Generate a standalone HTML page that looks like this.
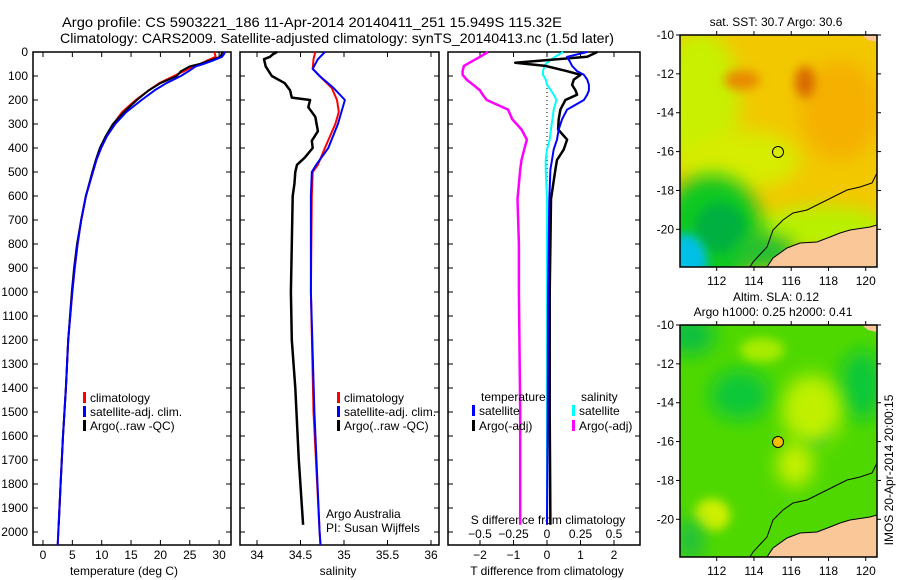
<!DOCTYPE html>
<html><head><meta charset="utf-8"><style>
html,body{margin:0;padding:0;background:#fff;}
svg{display:block;font-family:"Liberation Sans",sans-serif;}
text{fill:#000;}
</style></head><body>
<svg id="fig" width="900" height="580" viewBox="0 0 900 580">
<defs>
<filter id="bl" x="-50%" y="-50%" width="200%" height="200%"><feGaussianBlur stdDeviation="9"/></filter>
<filter id="bl2" x="-50%" y="-50%" width="200%" height="200%"><feGaussianBlur stdDeviation="5"/></filter>
<clipPath id="c1"><rect x="680" y="35" width="197" height="232"/></clipPath>
<clipPath id="c2"><rect x="680" y="325" width="197" height="232"/></clipPath>
</defs>
<text x="62" y="27" font-size="14" textLength="500" lengthAdjust="spacingAndGlyphs">Argo profile: CS 5903221_186 11-Apr-2014 20140411_251 15.949S 115.32E</text>
<text x="60" y="43" font-size="14" textLength="554" lengthAdjust="spacingAndGlyphs">Climatology: CARS2009. Satellite-adjusted climatology: synTS_20140413.nc (1.5d later)</text>

<g id="p1"></g>
<g id="p2"></g>
<g id="p3"></g>

<!-- SST map -->
<g>
<text x="776" y="26" font-size="12" text-anchor="middle">sat. SST: 30.7 Argo: 30.6</text>
<g clip-path="url(#c1)">
<rect x="680" y="35" width="197" height="232" fill="#f2c800"/>
<ellipse cx="700" cy="100" rx="40" ry="70" fill="#c8f000" filter="url(#bl)"/>
<ellipse cx="740" cy="160" rx="60" ry="30" fill="#d6ec00" filter="url(#bl)"/>
<ellipse cx="840" cy="110" rx="40" ry="50" fill="#f5b000" filter="url(#bl)"/>
<ellipse cx="742" cy="80" rx="18" ry="10" fill="#e88a00" filter="url(#bl2)"/>
<ellipse cx="805" cy="82" rx="10" ry="16" fill="#d86a00" filter="url(#bl2)"/>
<ellipse cx="820" cy="228" rx="70" ry="22" fill="#b8f000" filter="url(#bl)"/>
<ellipse cx="712" cy="230" rx="50" ry="55" fill="#10c820" filter="url(#bl)"/>
<ellipse cx="720" cy="228" rx="25" ry="25" fill="#00b040" filter="url(#bl2)"/>
<ellipse cx="765" cy="252" rx="30" ry="18" fill="#20c030" filter="url(#bl)"/>
<ellipse cx="685" cy="262" rx="22" ry="28" fill="#00c0e8" filter="url(#bl2)"/>
<polygon points="877,225 870,227 850,230 840,233 830,237 817,242 800,243 787,248 773,258 767,267 877,267" fill="#fac898"/>
<polygon points="862,35 877,35 877,42 868,40" fill="#fac898"/>
<polyline points="877,173 872,183 860,187 847,190 827,200 807,210 793,213 783,220 773,230 767,247 753,262 750,267" fill="none" stroke="#000" stroke-width="1"/>
<polyline points="877,225 870,227 850,230 840,233 830,237 817,242 800,243 787,248 773,258 767,267" fill="none" stroke="#000" stroke-width="1"/>
</g>
<rect x="680" y="35" width="197" height="232" fill="none" stroke="#000" stroke-width="1.5"/>
<circle cx="778" cy="152" r="5.5" fill="none" stroke="#000" stroke-width="1"/>
<g id="m1ax"></g>
</g>

<!-- SLA map -->
<g>
<text x="776" y="301" font-size="12" text-anchor="middle">Altim. SLA: 0.12</text>
<text x="773" y="316" font-size="12" text-anchor="middle">Argo h1000: 0.25 h2000: 0.41</text>
<g clip-path="url(#c2)">
<rect x="680" y="325" width="197" height="232" fill="#4fd800"/>
<ellipse cx="690" cy="335" rx="25" ry="20" fill="#10c040" filter="url(#bl)"/>
<ellipse cx="740" cy="395" rx="30" ry="25" fill="#10c838" filter="url(#bl)"/>
<ellipse cx="862" cy="385" rx="22" ry="35" fill="#10c838" filter="url(#bl)"/>
<ellipse cx="815" cy="430" rx="15" ry="18" fill="#10c030" filter="url(#bl2)"/>
<ellipse cx="812" cy="410" rx="30" ry="35" fill="#c0f000" filter="url(#bl)"/>
<ellipse cx="795" cy="465" rx="18" ry="22" fill="#c8f000" filter="url(#bl)"/>
<ellipse cx="762" cy="350" rx="22" ry="12" fill="#a8ec00" filter="url(#bl2)"/>
<ellipse cx="712" cy="515" rx="18" ry="16" fill="#d0f000" filter="url(#bl2)"/>
<ellipse cx="690" cy="540" rx="14" ry="22" fill="#20c040" filter="url(#bl)"/>
<polygon points="877,515 870,517 850,520 840,523 830,527 817,532 800,533 787,538 773,548 767,557 877,557" fill="#fac898"/>
<polygon points="862,325 877,325 877,332 868,330" fill="#fac898"/>
<polyline points="877,463 872,473 860,477 847,480 827,490 807,500 793,503 783,510 773,520 767,537 753,552 750,557" fill="none" stroke="#000" stroke-width="1"/>
<polyline points="877,515 870,517 850,520 840,523 830,527 817,532 800,533 787,538 773,548 767,557" fill="none" stroke="#000" stroke-width="1"/>
</g>
<rect x="680" y="325" width="197" height="232" fill="none" stroke="#000" stroke-width="1.5"/>
<circle cx="778" cy="442" r="5.5" fill="#f5c000" stroke="#000" stroke-width="1"/>
<g id="m2ax"></g>
<text transform="translate(893,470) rotate(-90)" font-size="12" text-anchor="middle">IMOS 20-Apr-2014 20:00:15</text>
</g>

<script>
// ---- data ----
const depthArgoT = [0,10,20,35,50,60,80,100,130,160,200,250,300,350,400,450,500,600,700,800,900,1000,1200,1400,1600,1800,1970];
const argoT = [30.6,30.4,30.2,28.5,26.7,25.0,23.5,22.8,20.0,18.0,16.0,13.8,11.9,10.7,9.7,9.0,8.4,7.3,6.5,5.8,5.3,4.9,4.3,3.9,3.4,3.0,2.7];
const depthClim = [0,10,20,35,50,60,80,100,130,160,200,250,300,350,400,450,500,600,700,800,900,1000,1200,1400,1600,1800,2000,2054];
const climT = [29.2,29.3,29.4,28.0,26.8,25.5,24.0,22.3,19.8,18.0,15.8,13.5,12.0,10.8,9.9,9.1,8.5,7.3,6.5,5.9,5.4,5.0,4.3,3.9,3.4,3.0,2.6,2.5];
const satT = [31.0,30.8,30.5,29.0,27.3,26.0,24.8,23.5,21.0,19.0,16.8,14.2,12.3,10.9,9.9,9.1,8.5,7.3,6.5,5.9,5.4,5.0,4.3,3.9,3.4,3.0,2.6,2.5];

const depthArgoS = [0,10,20,30,60,100,130,160,190,200,230,270,330,370,400,440,470,500,550,600,800,1000,1200,1400,1700,1970];
const argoS = [34.23,34.18,34.15,34.08,34.10,34.17,34.32,34.38,34.40,34.61,34.59,34.67,34.70,34.63,34.64,34.55,34.46,34.44,34.43,34.41,34.40,34.39,34.40,34.44,34.48,34.53];
const depthClimS = [0,30,70,100,150,200,250,300,400,470,500,600,1000,1500,2000,2054];
const climS = [34.67,34.65,34.64,34.72,34.86,34.92,34.94,34.90,34.78,34.70,34.64,34.63,34.62,34.65,34.72,34.73];
const satS = [34.78,34.70,34.64,34.72,34.88,35.01,34.97,34.93,34.82,34.68,34.63,34.62,34.62,34.66,34.72,34.73];

const depthDiff = [0,20,45,58,80,95,115,137,160,178,200,240,280,323,365,406,450,490,613,800,1000,1500,1970];
const diffArgoT = [1.5,1.2,-0.95,-0.05,0.6,1.0,0.8,0.75,0.85,0.9,0.55,0.4,0.35,0.33,0.6,0.5,0.3,0.25,0.12,0.1,0.08,0.08,0.1];
const diffSatT = [1.2,0.6,0.7,0.75,0.9,1.1,1.2,1.25,1.25,1.2,1.1,0.6,0.45,0.35,0.3,0.2,0.15,0.1,0.07,0.05,0.03,0.02,0.0];
const diffSatS = [0.12,0.06,0,-0.02,-0.03,-0.03,-0.01,0,0.03,0.05,0.07,0.05,0.04,0.03,0.02,0.0,-0.01,-0.01,0,0,0,0,0];
const diffArgoS = [-0.44,-0.5,-0.58,-0.62,-0.63,-0.63,-0.6,-0.55,-0.5,-0.48,-0.45,-0.29,-0.26,-0.19,-0.15,-0.17,-0.19,-0.2,-0.22,-0.21,-0.21,-0.2,-0.2];

const depthTicks = [0,100,200,300,400,500,600,700,800,900,1000,1100,1200,1300,1400,1500,1600,1700,1800,1900,2000];
const tempTicks = [0,5,10,15,20,25,30];
const salTicks = [34,34.5,35,35.5,36];
const tdTicks = [-2,-1,0,1,2];
const sdTicks = [-0.5,-0.25,0,0.25,0.5];
const sdTickLabels = ["\u22120.5","\u22120.25","0","0.25","0.5"];
const latTicks = [-10,-12,-14,-16,-18,-20];
const lonTicks = [112,114,116,118,120];

// ---- scales ----
const TOP=52, BOT=545;
const yD = d => TOP + d*0.24;
const xT = t => 43 + t*5.87;
const xS = s => 257 + (s-34)*87;
const xTd = t => 547 + t*33.5;
const xSd = s => 547 + s*134;
const NS='http://www.w3.org/2000/svg';
function mk(tag, attrs, parent){ const e=document.createElementNS(NS,tag); for(const k in attrs) e.setAttribute(k,attrs[k]); parent.appendChild(e); return e; }
function line(parent, xs, depths, vals, fx, color, w){
  const pts = vals.map((v,i)=>fx(v).toFixed(1)+','+yD(depths[i]).toFixed(1)).join(' ');
  return mk('polyline',{points:pts,fill:'none',stroke:color,'stroke-width':w||2,'stroke-linejoin':'round'},parent);
}
function txt(parent, x, y, s, anchor, size){ const t=mk('text',{x:x,y:y,'font-size':size||12,'text-anchor':anchor||'start'},parent); t.textContent=s; return t; }
function frame(parent, x0, x1){ mk('rect',{x:x0,y:TOP,width:x1-x0,height:BOT-TOP,fill:'none',stroke:'#000','stroke-width':1.5},parent); }

// ---- panel 1 ----
const p1=document.getElementById('p1');
frame(p1,33,231);
depthTicks.forEach(d=>{
  mk('line',{x1:33,x2:38,y1:yD(d),y2:yD(d),stroke:'#000'},p1);
  mk('line',{x1:226,x2:231,y1:yD(d),y2:yD(d),stroke:'#000'},p1);
  const t=txt(p1,28,yD(d)+4,String(d),'end');
  
  
});
tempTicks.forEach(v=>{
  mk('line',{x1:xT(v),x2:xT(v),y1:TOP,y2:TOP+5,stroke:'#000'},p1);
  mk('line',{x1:xT(v),x2:xT(v),y1:BOT-5,y2:BOT,stroke:'#000'},p1);
  const t=txt(p1,xT(v),559,String(v),'middle');
  
  
});
let e;
e=txt(p1,124,575,'temperature (deg C)','middle');


e=line(p1,null,depthClim,climT,xT,'#f00');


e=line(p1,null,depthArgoT,argoT,xT,'#000');


e=line(p1,null,depthClim,satT,xT,'#00f');


function legend(parent, x, y, color, label, name){
  const g=mk('g',{},parent);
  
  
  mk('rect',{x:x,y:y-10,width:3,height:11,fill:color},g);
  txt(g,x+7,y,label,'start');
}
legend(p1,83,402,'#f00','climatology','legend-climatology');
legend(p1,83,416,'#00f','satellite-adj. clim.','legend-satellite-adj');
legend(p1,83,430,'#000','Argo(..raw -QC)','legend-argo');

// ---- panel 2 ----
const p2=document.getElementById('p2');
frame(p2,240,439);
depthTicks.forEach(d=>{
  mk('line',{x1:240,x2:245,y1:yD(d),y2:yD(d),stroke:'#000'},p2);
  mk('line',{x1:434,x2:439,y1:yD(d),y2:yD(d),stroke:'#000'},p2);
});
salTicks.forEach(v=>{
  mk('line',{x1:xS(v),x2:xS(v),y1:TOP,y2:TOP+5,stroke:'#000'},p2);
  mk('line',{x1:xS(v),x2:xS(v),y1:BOT-5,y2:BOT,stroke:'#000'},p2);
  const t=txt(p2,xS(v),559,String(v),'middle');
  
  
});
e=txt(p2,338,575,'salinity','middle');


e=line(p2,null,depthClimS,climS,xS,'#f00');


e=line(p2,null,depthClimS,satS,xS,'#00f');


e=line(p2,null,depthArgoS,argoS,xS,'#000',2.5);


legend(p2,337,402,'#f00','climatology','legend-climatology-s');
legend(p2,337,416,'#00f','satellite-adj. clim.','legend-satellite-adj-s');
legend(p2,337,430,'#000','Argo(..raw -QC)','legend-argo-s');
e=txt(p2,326,518,'Argo Australia','start');


e=txt(p2,326,532,'PI: Susan Wijffels','start');



// ---- panel 3 ----
const p3=document.getElementById('p3');
frame(p3,448,640);
depthTicks.forEach(d=>{
  mk('line',{x1:448,x2:453,y1:yD(d),y2:yD(d),stroke:'#000'},p3);
  mk('line',{x1:635,x2:640,y1:yD(d),y2:yD(d),stroke:'#000'},p3);
});
tdTicks.forEach(v=>{
  mk('line',{x1:xTd(v),x2:xTd(v),y1:BOT-5,y2:BOT,stroke:'#000'},p3);
  const t=txt(p3,xTd(v),559,String(v).replace('-','\u2212'),'middle');
  
  
});
sdTicks.forEach((v,i)=>{
  mk('line',{x1:xSd(v),x2:xSd(v),y1:TOP,y2:TOP+5,stroke:'#000'},p3);
  const t=txt(p3,xSd(v),538,sdTickLabels[i],'middle');
  
  
});
mk('line',{x1:xTd(0),x2:xTd(0),y1:yD(150),y2:yD(900),stroke:'#000','stroke-dasharray':'1,3'},p3);
e=txt(p3,548,524,'S difference from climatology','middle');


e=txt(p3,547,575,'T difference from climatology','middle');


e=line(p3,null,depthDiff,diffArgoS,xSd,'#f0f',2.5);


e=line(p3,null,depthDiff,diffSatS,xSd,'#0ff',2);


e=line(p3,null,depthDiff,diffArgoT,xTd,'#000',2.5);


e=line(p3,null,depthDiff,diffSatT,xTd,'#00f',2);


e=txt(p3,481,401,'temperature','start');


e=txt(p3,581,401,'salinity','start');


legend(p3,472,415,'#00f','satellite','legend-t-satellite');
legend(p3,472,430,'#000','Argo(-adj)','legend-t-argo');
legend(p3,572,415,'#0ff','satellite','legend-s-satellite');
legend(p3,572,430,'#f0f','Argo(-adj)','legend-s-argo');

// ---- map axes ----
function mapAxes(gid, y0){
  const g=document.getElementById(gid);
  const lx = lon => 680 + (lon-110.03)*18.63;
  const ly = lat => y0 + (-10-lat)*19.43;
  latTicks.forEach(v=>{
    mk('line',{x1:676,x2:680,y1:ly(v),y2:ly(v),stroke:'#000'},g);
    mk('line',{x1:877,x2:881,y1:ly(v),y2:ly(v),stroke:'#000'},g);
    const t=txt(g,674,ly(v)+4,String(v),'end');
    
    
  });
  lonTicks.forEach(v=>{
    mk('line',{x1:lx(v),x2:lx(v),y1:y0-4,y2:y0,stroke:'#000'},g);
    mk('line',{x1:lx(v),x2:lx(v),y1:y0+232,y2:y0+236,stroke:'#000'},g);
    const t=txt(g,lx(v),y0+250,String(v),'middle');
    
    
  });
}
mapAxes('m1ax',35);
mapAxes('m2ax',325);
</script>
</svg>
</body></html>
